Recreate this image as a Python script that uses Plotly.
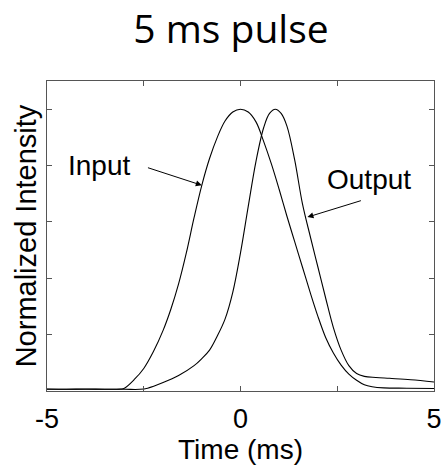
import plotly.graph_objects as go

# ---- data ----
input_time = [-5.0, -4.5, -4.0, -3.5, -3.1, -3.0, -2.75, -2.5, -2.25, -2.0, -1.8, -1.6, -1.4, -1.2,
              -1.0, -0.8, -0.6, -0.4, -0.2, 0.0, 0.2, 0.4, 0.6, 0.8, 1.0, 1.2, 1.4, 1.6,
              1.8, 2.0, 2.2, 2.4, 2.6, 2.8, 3.0, 3.2, 3.4, 3.7, 4.3, 5.0]
input_intensity = [0.007, 0.006, 0.007, 0.006, 0.007, 0.01, 0.04, 0.08, 0.14, 0.215, 0.29, 0.38, 0.49, 0.615,
                   0.73, 0.825, 0.9, 0.958, 0.99, 1.0, 0.99, 0.955, 0.885, 0.805, 0.715, 0.62, 0.53, 0.44,
                   0.35, 0.265, 0.19, 0.135, 0.092, 0.06, 0.038, 0.022, 0.015, 0.011, 0.01, 0.009]

output_time = [-5.0, -4.0, -3.0, -2.6, -2.4, -2.0, -1.6, -1.2, -1.0, -0.8, -0.6, -0.4, -0.2,
               0.0, 0.2, 0.4, 0.6, 0.75, 0.9, 1.05, 1.2, 1.4, 1.6, 1.8, 2.0, 2.2, 2.4,
               2.6, 2.8, 3.0, 3.2, 3.5, 3.85, 4.4, 5.0]
output_intensity = [0.006, 0.006, 0.006, 0.006, 0.01, 0.03, 0.055, 0.09, 0.115, 0.145, 0.195, 0.255, 0.35,
                    0.49, 0.655, 0.815, 0.935, 0.985, 1.0, 0.985, 0.94, 0.82, 0.665, 0.55, 0.44, 0.33, 0.225,
                    0.145, 0.09, 0.062, 0.052, 0.048, 0.045, 0.04, 0.032]

x_tick_values = [-5, -2.5, 0, 2.5, 5]
x_tick_labels = ["-5", "", "0", "", "5"]
y_tick_values = [0.2, 0.4, 0.6, 0.8, 1.0]

title_text = "5 ms pulse"
x_title = "Time (ms)"
y_title = "Normalized Intensity"

fig = go.Figure()
fig.add_trace(go.Scatter(x=input_time, y=input_intensity, mode="lines", name="Input",
                         line=dict(color="black", width=1.1, shape="spline", smoothing=1.0)))
fig.add_trace(go.Scatter(x=output_time, y=output_intensity, mode="lines", name="Output",
                         line=dict(color="black", width=1.1, shape="spline", smoothing=1.0)))

axis_font = dict(family="Liberation Sans, Arial, sans-serif", size=27, color="black")

fig.update_layout(
    width=442, height=465,
    margin=dict(l=47, r=8, t=81, b=74, autoexpand=False),
    paper_bgcolor="white", plot_bgcolor="white",
    showlegend=False,
    title=dict(text=title_text, x=231 / 442, xanchor="center", y=1 - 16 / 465, yanchor="top",
               yref="container",
               font=dict(family="Open Sans, sans-serif", size=39, color="black")),
    xaxis=dict(range=[-5, 5], tickvals=x_tick_values, ticktext=x_tick_labels,
               ticks="inside", ticklen=5, tickcolor="#555", tickwidth=1,
               showline=True, linecolor="#555", linewidth=1, mirror="ticks",
               showgrid=False, zeroline=False, tickfont=axis_font, ticklabelstandoff=4,
               automargin=False,
               title=dict(text=x_title, font=dict(family="Liberation Sans, Arial, sans-serif", size=28, color="black"),
                          standoff=0)),
    yaxis=dict(range=[0, 1.1], tickvals=y_tick_values, showticklabels=False,
               ticks="inside", ticklen=5, tickcolor="#555", tickwidth=1,
               showline=True, linecolor="#555", linewidth=1, mirror="ticks",
               showgrid=False, zeroline=False, automargin=False,
               title=dict(text=y_title, font=dict(family="Liberation Sans, Arial, sans-serif", size=29, color="black"),
                          standoff=0)),
)

label_font = dict(family="Liberation Sans, Arial, sans-serif", size=28, color="black")
fig.add_annotation(x=-3.66, y=0.80, text="Input", showarrow=False, font=label_font,
                   xref="x", yref="y")
fig.add_annotation(x=3.31, y=0.75, text="Output", showarrow=False, font=label_font,
                   xref="x", yref="y")
fig.add_annotation(x=-1.0, y=0.73, ax=-2.43, ay=0.794, xref="x", yref="y", axref="x", ayref="y",
                   text="", showarrow=True, arrowhead=2, arrowsize=1.2, arrowwidth=1, arrowcolor="black")
fig.add_annotation(x=1.73, y=0.617, ax=3.15, ay=0.677, xref="x", yref="y", axref="x", ayref="y",
                   text="", showarrow=True, arrowhead=2, arrowsize=1.2, arrowwidth=1, arrowcolor="black")

fig.write_html("out.html")
